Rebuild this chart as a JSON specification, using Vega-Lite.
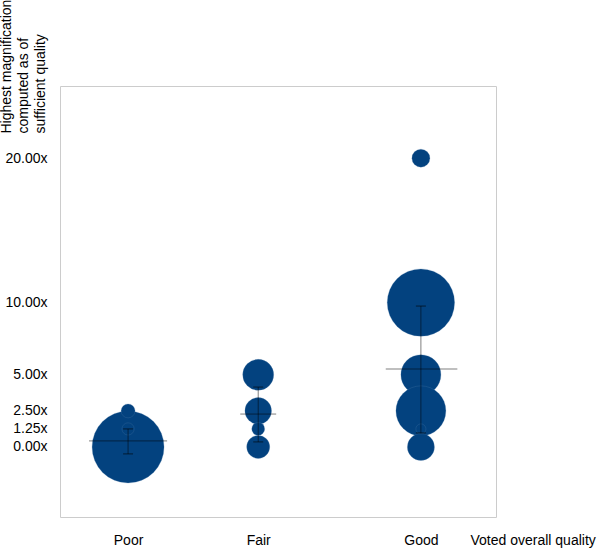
{
  "$schema": "https://vega.github.io/schema/vega-lite/v6.json",
  "autosize": {"type": "none"},
  "padding": {"left": 60, "top": 86, "right": 104, "bottom": 32},
  "width": 436,
  "height": 431,
  "background": "white",
  "config": {
    "view": {"stroke": "#cccccc", "strokeWidth": 1},
    "font": "Liberation Sans",
    "axis": {"grid": false, "domain": false, "ticks": false, "tickSize": 0, "labelFont": "Liberation Sans", "titleFont": "Liberation Sans", "labelColor": "#000", "titleColor": "#000", "labelFontSize": 14, "titleFontSize": 14, "titleFontWeight": "normal", "labelOverlap": false, "labelFlush": false}
  },
  "datasets": {
    "bubbles": [
      {"quality": "Poor", "pos": 1, "mag": 0, "weight": 5},
      {"quality": "Poor", "pos": 1, "mag": 2.5, "weight": 0.97},
      {"quality": "Poor", "pos": 1, "mag": 1.25, "weight": 0.85},
      {"quality": "Fair", "pos": 2, "mag": 5, "weight": 2.15},
      {"quality": "Fair", "pos": 2, "mag": 2.5, "weight": 1.85},
      {"quality": "Fair", "pos": 2, "mag": 1.25, "weight": 0.9},
      {"quality": "Fair", "pos": 2, "mag": 0, "weight": 1.6},
      {"quality": "Good", "pos": 3.25, "mag": 20, "weight": 1.25},
      {"quality": "Good", "pos": 3.25, "mag": 10, "weight": 4.68},
      {"quality": "Good", "pos": 3.25, "mag": 5, "weight": 2.78},
      {"quality": "Good", "pos": 3.25, "mag": 2.5, "weight": 3.47},
      {"quality": "Good", "pos": 3.25, "mag": 0, "weight": 1.88},
      {"quality": "Good", "pos": 3.25, "mag": 1.25, "weight": 0.7}
    ],
    "stats": [
      {"quality": "Poor", "pos": 1, "mean": 0.42, "lo": -0.48, "hi": 1.25, "xlo": 0.70, "xhi": 1.30},
      {"quality": "Fair", "pos": 2, "mean": 2.28, "lo": 0.35, "hi": 4.15, "xlo": 1.862, "xhi": 2.138},
      {"quality": "Good", "pos": 3.25, "mean": 5.40, "lo": 0.97, "hi": 9.76, "xlo": 2.98, "xhi": 3.53}
    ]
  },
  "layer": [
    {
      "data": {"name": "bubbles"},
      "mark": {"type": "circle", "color": "#03427f", "opacity": 1, "stroke": "#5a82ad", "strokeWidth": 0.6, "strokeOpacity": 0.4},
      "encoding": {
        "x": {
          "field": "pos", "type": "quantitative",
          "scale": {"domain": [0.477, 3.827], "nice": false, "zero": false},
          "axis": {"values": [1, 2, 3.25], "labelExpr": "datum.value == 1 ? 'Poor' : datum.value == 2 ? 'Fair' : 'Good'", "labelBaseline": "middle", "labelPadding": 23, "title": "Voted overall quality", "titleX": 410, "titleY": 23, "titleAlign": "left", "titleBaseline": "middle", "titleAngle": 0}
        },
        "y": {
          "field": "mag", "type": "quantitative",
          "scale": {"domain": [-4.85, 25], "nice": false, "zero": false},
          "axis": {"values": [0, 1.25, 2.5, 5, 10, 20], "labelExpr": "format(datum.value, '.2f') + 'x'", "labelPadding": 13, "labelBaseline": "middle", "title": ["Highest magnification", "computed as of", "sufficient quality"], "titleAngle": 270, "titleX": -61, "titleY": 47, "titleAlign": "left", "titleBaseline": "top", "titleLineHeight": 17}
        },
        "size": {"field": "weight", "type": "quantitative", "scale": {"type": "pow", "exponent": 2, "domain": [0, 5], "range": [0, 5184]}, "legend": null}
      }
    },
    {
      "data": {"name": "stats"},
      "mark": {"type": "rule", "color": "#000", "opacity": 0.5, "strokeWidth": 1},
      "encoding": {
        "x": {"field": "pos", "type": "quantitative"},
        "y": {"field": "lo", "type": "quantitative"},
        "y2": {"field": "hi"}
      }
    },
    {
      "data": {"name": "stats"},
      "mark": {"type": "tick", "orient": "horizontal", "color": "#000", "opacity": 0.6, "size": 10, "thickness": 1},
      "encoding": {
        "x": {"field": "pos", "type": "quantitative"},
        "y": {"field": "lo", "type": "quantitative"}
      }
    },
    {
      "data": {"name": "stats"},
      "mark": {"type": "tick", "orient": "horizontal", "color": "#000", "opacity": 0.6, "size": 10, "thickness": 1},
      "encoding": {
        "x": {"field": "pos", "type": "quantitative"},
        "y": {"field": "hi", "type": "quantitative"}
      }
    },
    {
      "data": {"name": "stats"},
      "mark": {"type": "rule", "color": "#000", "opacity": 0.5, "strokeWidth": 1},
      "encoding": {
        "x": {"field": "xlo", "type": "quantitative"},
        "x2": {"field": "xhi"},
        "y": {"field": "mean", "type": "quantitative"}
      }
    }
  ]
}
